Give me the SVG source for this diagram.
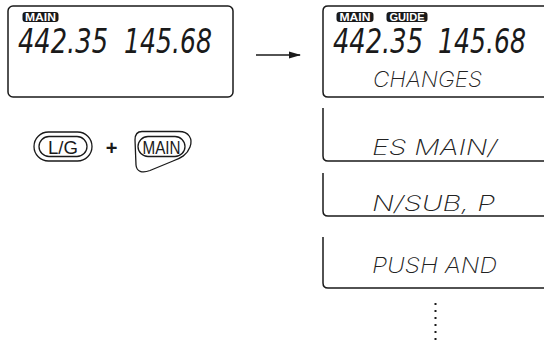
<svg xmlns="http://www.w3.org/2000/svg" width="544" height="345" viewBox="0 0 544 345">
<style>
.box{fill:none;stroke:#1a1a1a;stroke-width:1.5}
.btn{fill:none;stroke:#1a1a1a;stroke-width:1.3}
.badge{fill:#1a1a1a}
.badgetxt{font-family:"Liberation Sans",Arial,sans-serif;font-weight:bold;font-size:10px;fill:#fff}
.big{font-family:"DejaVu Sans Condensed","DejaVu Sans",sans-serif;font-style:italic;font-size:34px;fill:#1a1a1a}
.seg{font-family:Inter,"Open Sans",sans-serif;font-weight:200;font-size:21px;fill:#222;font-style:italic}
.lbl{font-family:"Liberation Sans",Arial,sans-serif;font-size:18px;fill:#1a1a1a}
.plus{font-family:"Liberation Sans",Arial,sans-serif;font-size:20px;font-weight:bold;fill:#1a1a1a}
.dot{fill:#1a1a1a}
</style>
<defs>
<marker id="ah" markerWidth="12" markerHeight="8" refX="11" refY="4" orient="auto" markerUnits="userSpaceOnUse">
<path d="M0,0.5 L12,4 L0,7.5 Z" fill="#1a1a1a"/>
</marker>
</defs>

<g id="display-left">
<rect class="box" x="8" y="6" width="225" height="91" rx="5"/>
<rect class="badge" x="22.5" y="12" width="36" height="10" rx="3"/>
<text class="badgetxt" x="25" y="20.5" textLength="31" lengthAdjust="spacingAndGlyphs">MAIN</text>
<text class="big" x="18" y="53" textLength="90" lengthAdjust="spacingAndGlyphs">442.35</text>
<text class="big" x="124" y="53" textLength="88" lengthAdjust="spacingAndGlyphs">145.68</text>
</g>

<g id="button-lg">
<rect class="btn" x="34" y="132" width="58" height="29" rx="14.5"/>
<rect class="btn" x="39" y="136.5" width="48" height="20" rx="10"/>
<text class="lbl" x="63" y="153.5" text-anchor="middle" textLength="30" lengthAdjust="spacingAndGlyphs">L/G</text>
</g>

<g id="plus">
<text class="plus" x="111.5" y="154.5" text-anchor="middle">+</text>
</g>

<g id="button-main">
<path class="btn" d="M142,131.5 L179,131.5 C189,131.5 193,139 190,147 C187,155 181,158 173,161 L150,170.5 C142,173.5 136.5,171.5 136,165 L135,140 C135,134.5 137.5,131.5 142,131.5 Z"/>
<rect class="btn" x="138" y="136.5" width="47" height="20" rx="10"/>
<text class="lbl" x="161.5" y="153.5" text-anchor="middle" textLength="38" lengthAdjust="spacingAndGlyphs">MAIN</text>
</g>

<g id="connectors">
<line x1="256" y1="55" x2="300" y2="55" stroke="#1a1a1a" stroke-width="1.5" marker-end="url(#ah)"/>
</g>

<g id="display-1">
<path class="box" d="M560,6 L328,6 Q323,6 323,11 L323,92 Q323,97 328,97 L560,97"/>
<rect class="badge" x="336.5" y="12" width="37" height="10" rx="3"/>
<text class="badgetxt" x="339.5" y="20.5" textLength="31" lengthAdjust="spacingAndGlyphs">MAIN</text>
<rect class="badge" x="386.5" y="12" width="41" height="10" rx="3"/>
<text class="badgetxt" x="389.5" y="20.5" textLength="35" lengthAdjust="spacingAndGlyphs">GUIDE</text>
<text class="big" x="333" y="53" textLength="90" lengthAdjust="spacingAndGlyphs">442.35</text>
<text class="big" x="438" y="53" textLength="88" lengthAdjust="spacingAndGlyphs">145.68</text>
<text class="seg" x="373" y="87" textLength="109" lengthAdjust="spacingAndGlyphs">CHANGES</text>
</g>

<g id="display-2">
<path class="box" d="M323,108 L323,156 Q323,161 328,161 L560,161"/>
<text class="seg" x="372" y="155" textLength="125" lengthAdjust="spacingAndGlyphs">ES MAIN/</text>
</g>

<g id="display-3">
<path class="box" d="M323,173 L323,211 Q323,216 328,216 L560,216"/>
<text class="seg" x="372" y="211" textLength="123" lengthAdjust="spacingAndGlyphs">N/SUB, P</text>
</g>

<g id="display-4">
<path class="box" d="M323,237 L323,283 Q323,288 328,288 L560,288"/>
<text class="seg" x="372" y="273" textLength="125" lengthAdjust="spacingAndGlyphs">PUSH AND</text>
</g>

<g id="ellipsis">
<rect class="dot" x="434.5" y="303" width="2" height="2"/>
<rect class="dot" x="434.5" y="310" width="2" height="2"/>
<rect class="dot" x="434.5" y="317" width="2" height="2"/>
<rect class="dot" x="434.5" y="324" width="2" height="2"/>
<rect class="dot" x="434.5" y="331" width="2" height="2"/>
<rect class="dot" x="434.5" y="338" width="2" height="2"/>
</g>
</svg>
